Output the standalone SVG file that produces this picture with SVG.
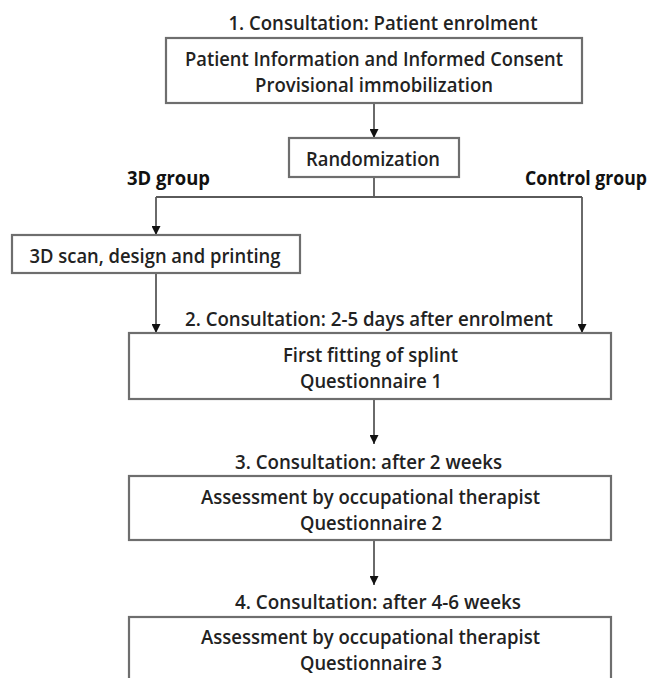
<svg xmlns="http://www.w3.org/2000/svg" width="656" height="678" viewBox="0 0 656 678">
<defs>
<marker id="ah" viewBox="0 0 10 10" refX="10" refY="5" markerWidth="9" markerHeight="9" markerUnits="userSpaceOnUse" orient="auto">
<path d="M0,0 L10,5 L0,10 z" fill="#111"/>
</marker>
<style>
.box{fill:#fff;stroke:#6e6e6e;stroke-width:2.2}
.ln{fill:none;stroke:#5a5a5a;stroke-width:1.8}
.t{font-family:"Open Sans",Lato,"Liberation Sans",sans-serif;font-size:19px;font-weight:600;fill:#222;text-anchor:middle}
.b{font-weight:bold;fill:#111}
</style>
</defs>
<rect width="656" height="678" fill="#fff"/>
<g id="connectors">
<line class="ln" x1="374" y1="103" x2="374" y2="138" marker-end="url(#ah)"/>
<polyline class="ln" points="374,177 374,197"/>
<polyline class="ln" points="156,197 582,197"/>
<line class="ln" x1="156" y1="197" x2="156" y2="235" marker-end="url(#ah)"/>
<line class="ln" x1="582" y1="197" x2="582" y2="333" marker-end="url(#ah)"/>
<line class="ln" x1="156" y1="273" x2="156" y2="333" marker-end="url(#ah)"/>
<line class="ln" x1="374" y1="399" x2="374" y2="444" marker-end="url(#ah)"/>
<line class="ln" x1="374" y1="540" x2="374" y2="585" marker-end="url(#ah)"/>
</g>
<g id="label1"><text class="t" x="383" y="30" textLength="309" lengthAdjust="spacingAndGlyphs">1. Consultation: Patient enrolment</text></g>
<g id="node1">
<rect class="box" x="166" y="38" width="416" height="65"/>
<text class="t" x="374" y="66" textLength="378" lengthAdjust="spacingAndGlyphs">Patient Information and Informed Consent</text>
<text class="t" x="374" y="92" textLength="238" lengthAdjust="spacingAndGlyphs">Provisional immobilization</text>
</g>
<g id="node-randomization">
<rect class="box" x="289" y="138" width="170" height="39"/>
<text class="t" x="373" y="166" textLength="134" lengthAdjust="spacingAndGlyphs">Randomization</text>
</g>
<g id="label-3d"><text class="t b" x="168.5" y="185" textLength="83" lengthAdjust="spacingAndGlyphs">3D group</text></g>
<g id="label-control"><text class="t b" x="586" y="185" textLength="122" lengthAdjust="spacingAndGlyphs">Control group</text></g>
<g id="node-3d">
<rect class="box" x="12" y="235" width="288" height="38"/>
<text class="t" x="155" y="263" textLength="251" lengthAdjust="spacingAndGlyphs">3D scan, design and printing</text>
</g>
<g id="label2"><text class="t" x="369" y="326" textLength="368" lengthAdjust="spacingAndGlyphs">2. Consultation: 2-5 days after enrolment</text></g>
<g id="node2">
<rect class="box" x="129" y="333" width="482" height="66"/>
<text class="t" x="370.5" y="362" textLength="175" lengthAdjust="spacingAndGlyphs">First fitting of splint</text>
<text class="t" x="371" y="388" textLength="142" lengthAdjust="spacingAndGlyphs">Questionnaire 1</text>
</g>
<g id="label3"><text class="t" x="368.5" y="469" textLength="267" lengthAdjust="spacingAndGlyphs">3. Consultation: after 2 weeks</text></g>
<g id="node3">
<rect class="box" x="129" y="476" width="482" height="64"/>
<text class="t" x="370.5" y="504" textLength="339" lengthAdjust="spacingAndGlyphs">Assessment by occupational therapist</text>
<text class="t" x="371" y="530" textLength="142" lengthAdjust="spacingAndGlyphs">Questionnaire 2</text>
</g>
<g id="label4"><text class="t" x="378" y="609" textLength="286" lengthAdjust="spacingAndGlyphs">4. Consultation: after 4-6 weeks</text></g>
<g id="node4">
<rect class="box" x="129" y="617" width="482" height="66"/>
<text class="t" x="370.5" y="644" textLength="339" lengthAdjust="spacingAndGlyphs">Assessment by occupational therapist</text>
<text class="t" x="371" y="670" textLength="142" lengthAdjust="spacingAndGlyphs">Questionnaire 3</text>
</g>
</svg>
